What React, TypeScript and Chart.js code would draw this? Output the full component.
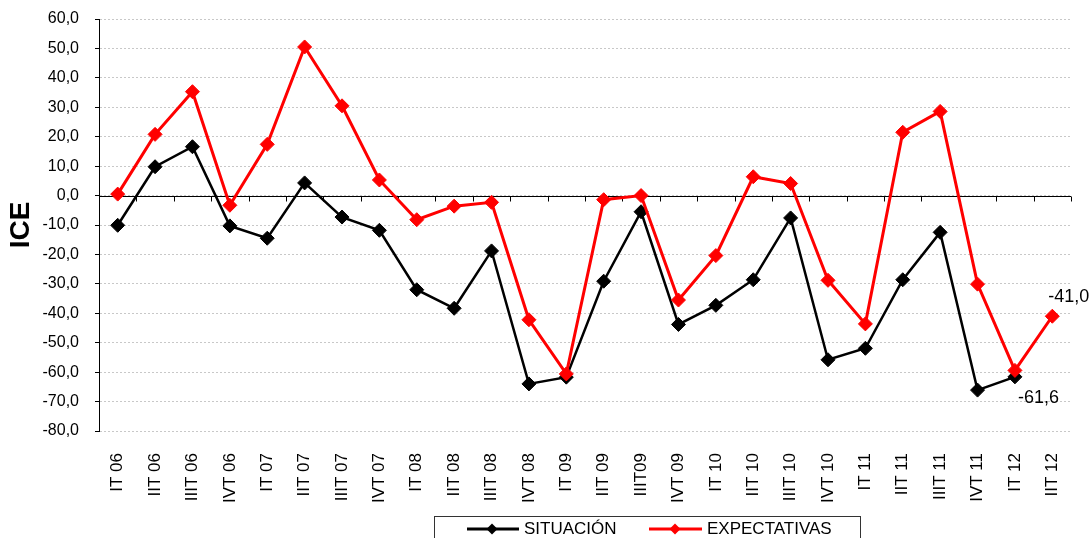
import React, { useEffect, useRef } from "react";
import { Chart, registerables } from "chart.js";

Chart.register(...registerables);

const categories = [
  "IT 06", "IIT 06", "IIIT 06", "IVT 06",
  "IT 07", "IIT 07", "IIIT 07", "IVT 07",
  "IT 08", "IIT 08", "IIIT 08", "IVT 08",
  "IT 09", "IIT 09", "IIIT09", "IVT 09",
  "IT 10", "IIT 10", "IIIT 10", "IVT 10",
  "IT 11", "IIT 11", "IIIT 11", "IVT 11",
  "IT 12", "IIT 12",
];

const situacion: (number | null)[] = [
  -10.1, 9.8, 16.6, -10.3,
  -14.5, 4.3, -7.3, -11.8,
  -32.0, -38.3, -18.8, -64.0,
  -61.7, -29.1, -5.5, -43.8,
  -37.3, -28.6, -7.6, -55.8,
  -51.9, -28.6, -12.5, -66.1,
  -61.6, null,
];

const expectativas: number[] = [
  0.5, 20.8, 35.3, -3.3,
  17.4, 50.5, 30.5, 5.3,
  -8.2, -3.6, -2.3, -42.2,
  -60.6, -1.4, 0.0, -35.5,
  -20.4, 6.4, 4.1, -28.8,
  -43.6, 21.5, 28.6, -30.1,
  -59.4, -41.0,
];

const seriesNames = ["SITUACIÓN", "EXPECTATIVAS"];
const seriesColors = ["#000000", "#ff0000"];
const yMin = -80;
const yMax = 60;
const yStep = 10;
const yTitle = "ICE";

const FONT = '"Liberation Sans", Arial, sans-serif';

const fmt = (v: number) => v.toFixed(1).replace(".", ",");

export default function App() {
  const ref = useRef<HTMLCanvasElement>(null);

  useEffect(() => {
    document.body.style.margin = "0";
    const canvas = ref.current!;

    const zeroAxisPlugin = {
      id: "zeroAxis",
      beforeDatasetsDraw(chart: any) {
        const { ctx, chartArea, scales } = chart;
        const xs = scales.x;
        const ys = scales.y;
        const y0 = Math.round(ys.getPixelForValue(0)) + 0.5;
        ctx.save();
        ctx.strokeStyle = "#000";
        ctx.lineWidth = 1;
        ctx.setLineDash([]);
        ctx.beginPath();
        ctx.moveTo(chartArea.left, y0);
        ctx.lineTo(chartArea.right, y0);
        for (let i = 0; i <= categories.length; i++) {
          const px = Math.round(xs.getPixelForValue(i - 0.5)) + 0.5;
          ctx.moveTo(px, y0);
          ctx.lineTo(px, y0 + 5);
        }
        ctx.stroke();
        ctx.restore();
      },
    };

    const valueLabelPlugin = {
      id: "valueLabels",
      afterDatasetsDraw(chart: any) {
        const { ctx } = chart;
        ctx.save();
        ctx.font = `18px ${FONT}`;
        ctx.fillStyle = "#000";
        ctx.textAlign = "left";
        ctx.textBaseline = "middle";
        const redMeta = chart.getDatasetMeta(1);
        const ri = expectativas.length - 1;
        const rp = redMeta.data[ri];
        ctx.fillText(fmt(expectativas[ri]), rp.x - 4, rp.y - 19);
        const blackMeta = chart.getDatasetMeta(0);
        let bi = situacion.length - 1;
        while (bi >= 0 && situacion[bi] === null) bi--;
        const bp = blackMeta.data[bi];
        ctx.fillText(fmt(situacion[bi] as number), bp.x + 3, bp.y + 21);
        ctx.restore();
      },
    };

    const legendPlugin = {
      id: "boxLegend",
      afterDraw(chart: any) {
        const { ctx } = chart;
        ctx.save();
        ctx.strokeStyle = "#333";
        ctx.lineWidth = 1;
        ctx.strokeRect(434.5, 516.5, 426, 40);
        const items = [
          { x0: 467, x1: 519, cx: 492, tx: 524 },
          { x0: 649, x1: 702, cx: 675, tx: 707 },
        ];
        const ly = 529;
        items.forEach((it, i) => {
          ctx.strokeStyle = seriesColors[i];
          ctx.fillStyle = seriesColors[i];
          ctx.lineWidth = 3;
          ctx.beginPath();
          ctx.moveTo(it.x0, ly);
          ctx.lineTo(it.x1, ly);
          ctx.stroke();
          const r = 5.5;
          ctx.beginPath();
          ctx.moveTo(it.cx - r, ly);
          ctx.lineTo(it.cx, ly - r);
          ctx.lineTo(it.cx + r, ly);
          ctx.lineTo(it.cx, ly + r);
          ctx.closePath();
          ctx.fill();
          ctx.fillStyle = "#000";
          ctx.font = `17px ${FONT}`;
          ctx.textAlign = "left";
          ctx.textBaseline = "middle";
          ctx.fillText(seriesNames[i], it.tx, ly);
        });
        ctx.restore();
      },
    };

    const marker = (color: string) => ({
      borderColor: color,
      backgroundColor: color,
      pointStyle: "rectRot" as const,
      pointRadius: 7,
      pointHoverRadius: 7,
      pointBackgroundColor: color,
      pointBorderColor: color,
      pointBorderWidth: 1,
      tension: 0,
      fill: false,
    });

    const chart = new Chart(canvas, {
      type: "line",
      data: {
        labels: categories,
        datasets: [
          {
            label: seriesNames[0],
            data: situacion,
            borderWidth: 2.5,
            order: 1,
            ...marker(seriesColors[0]),
          },
          {
            label: seriesNames[1],
            data: expectativas,
            borderWidth: 3,
            order: 0,
            ...marker(seriesColors[1]),
          },
        ],
      },
      options: {
        responsive: false,
        animation: false,
        layout: { padding: { left: 0, right: 20, top: 19, bottom: 0 } },
        plugins: {
          legend: { display: false },
          tooltip: { enabled: false },
        },
        scales: {
          x: {
            type: "category",
            offset: true,
            grid: { display: false, drawTicks: false },
            border: { display: false },
            ticks: {
              autoSkip: false,
              maxRotation: 90,
              minRotation: 90,
              padding: 22,
              color: "#000",
              font: { family: FONT, size: 17 },
            },
            afterFit: (s: any) => {
              s.height = 107;
              s.paddingLeft = 0;
              s.paddingRight = 0;
            },
          },
          y: {
            min: yMin,
            max: yMax,
            ticks: {
              stepSize: yStep,
              padding: 16,
              color: "#000",
              font: { family: FONT, size: 16 },
              callback: (v: any) => fmt(Number(v)),
            },
            grid: {
              color: "#c8c8c8",
              lineWidth: 1,
              drawTicks: true,
              tickLength: 4,
              tickColor: "#000",
              tickBorderDash: [],
            },
            border: { display: true, color: "#000", width: 1, dash: [2, 2] },
            title: {
              display: true,
              text: yTitle,
              color: "#000",
              font: { family: FONT, size: 28, weight: "bold" },
              padding: { top: 4, bottom: 4 },
            },
            afterFit: (s: any) => {
              s.width = 99;
              s.paddingTop = 0;
              s.paddingBottom = 0;
            },
          },
        },
      },
      plugins: [zeroAxisPlugin, valueLabelPlugin, legendPlugin],
    } as any);

    return () => chart.destroy();
  }, []);

  return (
    <div style={{ width: 1091, height: 538, background: "#fff" }}>
      <canvas ref={ref} width={1091} height={538} style={{ display: "block" }} />
    </div>
  );
}
